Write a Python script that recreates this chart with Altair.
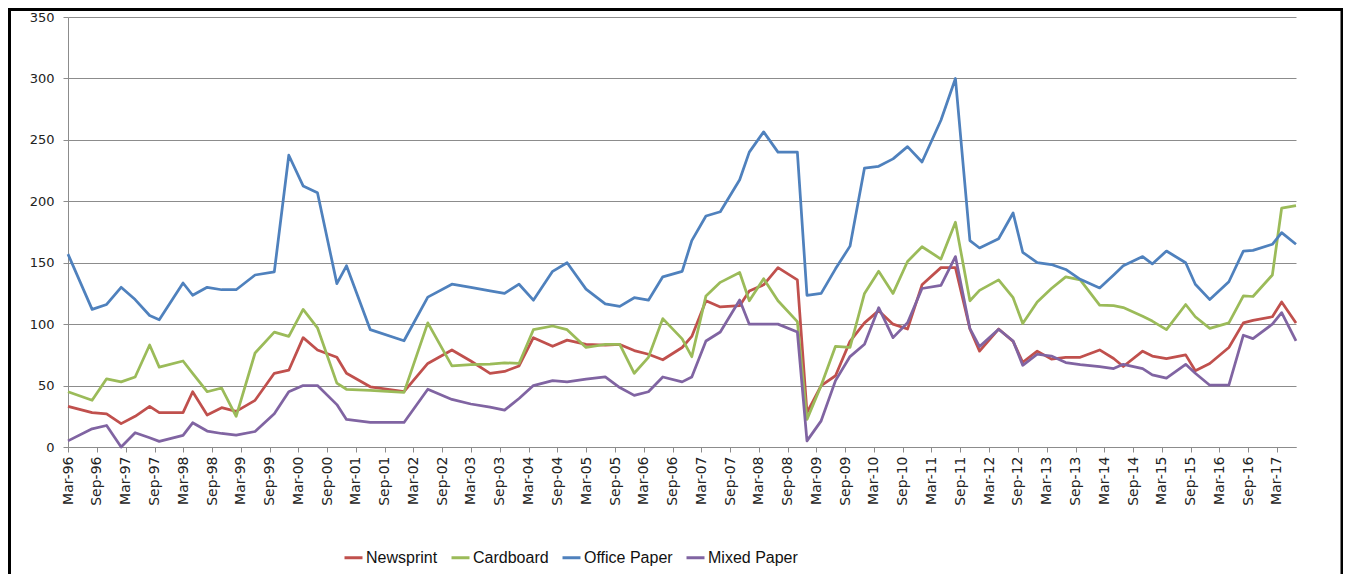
import altair as alt
import pandas as pd

# ---- data ----
dates = [
    "1996-03", "1996-08", "1996-11", "1997-02", "1997-05", "1997-08", "1997-10", "1998-03", "1998-05", "1998-08",
    "1998-11", "1999-02", "1999-06", "1999-10", "2000-01", "2000-04", "2000-07", "2000-11", "2001-01", "2001-06",
    "2002-01", "2002-06", "2002-11", "2003-03", "2003-07", "2003-10", "2004-01", "2004-04", "2004-08", "2004-11",
    "2005-03", "2005-07", "2005-10", "2006-01", "2006-04", "2006-07", "2006-11", "2007-01", "2007-04", "2007-07",
    "2007-11", "2008-01", "2008-04", "2008-07", "2008-11", "2009-01", "2009-04", "2009-07", "2009-10", "2010-01",
    "2010-04", "2010-07", "2010-10", "2011-01", "2011-05", "2011-08", "2011-11", "2012-01", "2012-05", "2012-08",
    "2012-10", "2013-01", "2013-04", "2013-07", "2013-10", "2014-02", "2014-05", "2014-07", "2014-11", "2015-01",
    "2015-04", "2015-08", "2015-10", "2016-01", "2016-05", "2016-08", "2016-10", "2017-02", "2017-04", "2017-07",
]

newsprint = [
    33, 28, 27, 19, 25, 33, 28, 28, 45, 26,
    32, 29, 38, 60, 62.5, 89, 79, 73, 60, 49,
    45, 68, 79, 70, 60, 61.5, 66, 89, 82, 87,
    83.5, 83, 83.5, 78.5, 75.5, 71, 81, 90, 119, 114,
    115, 127, 132, 146, 136, 28, 50, 58, 86, 101,
    111, 100, 96, 132, 146, 146, 96, 78, 96, 86,
    69, 78, 71.5, 73, 73, 79, 72, 65.5, 78, 74,
    72, 75, 62, 68, 81, 101, 103, 106, 118, 101,
]

cardboard = [
    45, 38, 55.5, 53, 57, 83, 65, 70, 60, 45,
    48, 25, 76.5, 93.5, 90, 112, 97, 52, 47, 46,
    44.5, 101, 66, 67, 67.5, 68.5, 68, 95.5, 98.5, 95.5,
    81, 83.5, 83.5, 60, 73, 104.5, 88, 73.5, 123, 134,
    142, 119, 137, 119, 102, 22.5, 50, 82, 81, 125,
    143, 125, 151, 163, 153, 183, 119, 127.5, 136, 121.5,
    100.5, 118, 129, 138.5, 136, 115.5, 115, 113.5, 106.5, 102.5,
    95.5, 116, 106, 96.5, 101, 123, 122.5, 140, 194.5, 196.5,
]

office_paper = [
    157, 112, 116, 130, 120, 107, 103.5, 133.5, 123.5, 130,
    128, 128, 140, 142.5, 237.5, 212.5, 207, 133, 147.5, 95.5,
    86.5, 122, 132.5, 130, 127, 125, 132.5, 119.5, 143, 150,
    128.5, 116.5, 114.5, 121.5, 119.5, 138.5, 143, 168, 188, 191.5,
    217.5, 240, 256.5, 240, 240, 123.5, 125, 145, 163.5, 227,
    228.5, 234.5, 244.5, 232, 266, 300, 168, 162, 169.5, 190.5,
    158.5, 150, 148.5, 144.5, 136.5, 129.5, 140, 147.5, 155, 149,
    159.5, 150, 132.5, 120, 134.5, 159.5, 160, 165, 174.5, 165,
]

mixed_paper = [
    5, 14.8, 17.5, 0, 11.6, 7.5, 4.6, 9.5, 19.7, 13,
    11, 9.6, 12.6, 27, 45, 50, 50, 34.5, 22.4, 20,
    20, 47, 38.7, 35, 32.5, 30, 39.5, 50, 54, 53,
    55.2, 57, 48.4, 42, 45, 57, 53, 57, 86.3, 93.6,
    119.6, 100, 100, 100, 93.6, 5, 21.3, 54, 73.6, 83.6,
    113.4, 89, 101.2, 129, 131.6, 155, 96.3, 81.7, 95.8, 86.3,
    66.5, 75.5, 74, 68.7, 67, 65.4, 63.8, 67.3, 63.8, 58.7,
    56, 67.3, 60, 50.3, 50.3, 91, 88.2, 100, 109.4, 86.3,
]

series_names = ["Newsprint", "Cardboard", "Office Paper", "Mixed Paper"]
series_colors = ["#C0504D", "#9BBB59", "#4F81BD", "#8064A2"]
y_ticks = [0, 50, 100, 150, 200, 250, 300, 350]
x_tick_dates = [f"{yr}-{mo:02d}" for yr in range(1996, 2018) for mo in (3, 9) if not (yr == 2017 and mo == 9)]
x_domain = ["1996-03", "2017-07"]

# ---- build long table ----
rows = []
for name, vals in zip(series_names, [newsprint, cardboard, office_paper, mixed_paper]):
    for d, v in zip(dates, vals):
        rows.append({"date": d + "-01T00:00:00", "series": name, "value": v})
df = pd.DataFrame(rows)


def to_dt(s):
    y, m = s.split("-")
    return alt.DateTime(year=int(y), month=int(m), date=1)


lines = alt.Chart(df).mark_line(strokeWidth=2.75, strokeJoin="round").encode(
    x=alt.X(
        "date:T",
        title=None,
        scale=alt.Scale(domain=[to_dt(s) for s in x_domain]),
        axis=alt.Axis(
            values=[to_dt(s) for s in x_tick_dates],
            format="%b-%y",
            labelAngle=270,
            labelFontSize=14,
            labelPadding=4,
            tickSize=5,
            grid=False,
            labelOverlap=False,
        ),
    ),
    y=alt.Y(
        "value:Q",
        title=None,
        scale=alt.Scale(domain=[0, 350], nice=False),
        axis=alt.Axis(values=y_ticks, labelFontSize=13, labelPadding=9, tickSize=5, grid=True),
    ),
    color=alt.Color(
        "series:N",
        scale=alt.Scale(domain=series_names, range=series_colors),
        legend=alt.Legend(
            title=None,
            orient="none",
            legendX=275,
            legendY=530,
            direction="horizontal",
            columns=4,
            symbolType="stroke",
            symbolSize=324,
            symbolStrokeWidth=3,
            labelFont="Liberation Sans",
            labelFontSize=16,
            labelColor="#111111",
            labelOffset=2,
            columnPadding=7,
            padding=0,
        ),
    ),
)

border = alt.Chart(alt.Data(values=[{"k": 1}])).mark_rect(
    filled=False, stroke="black", strokeWidth=3
).encode(
    x=alt.value(-58.5),
    x2=alt.value(1274),
    y=alt.value(-7.5),
    y2=alt.value(600),
)

chart = (
    alt.layer(lines, border)
    .properties(
        width=1228,
        height=430,
        padding={"left": 60, "top": 9, "right": 47, "bottom": 127},
        autosize=alt.AutoSizeParams(type="none"),
    )
    .configure_view(strokeWidth=0)
    .configure_axis(
        domainColor="#8c8c8c",
        tickColor="#8c8c8c",
        gridColor="#8c8c8c",
        gridWidth=1,
        labelFont="DejaVu Sans",
        labelColor="#222222",
    )
)

chart.save("out.html", embed_options={"renderer": "svg", "actions": False})
